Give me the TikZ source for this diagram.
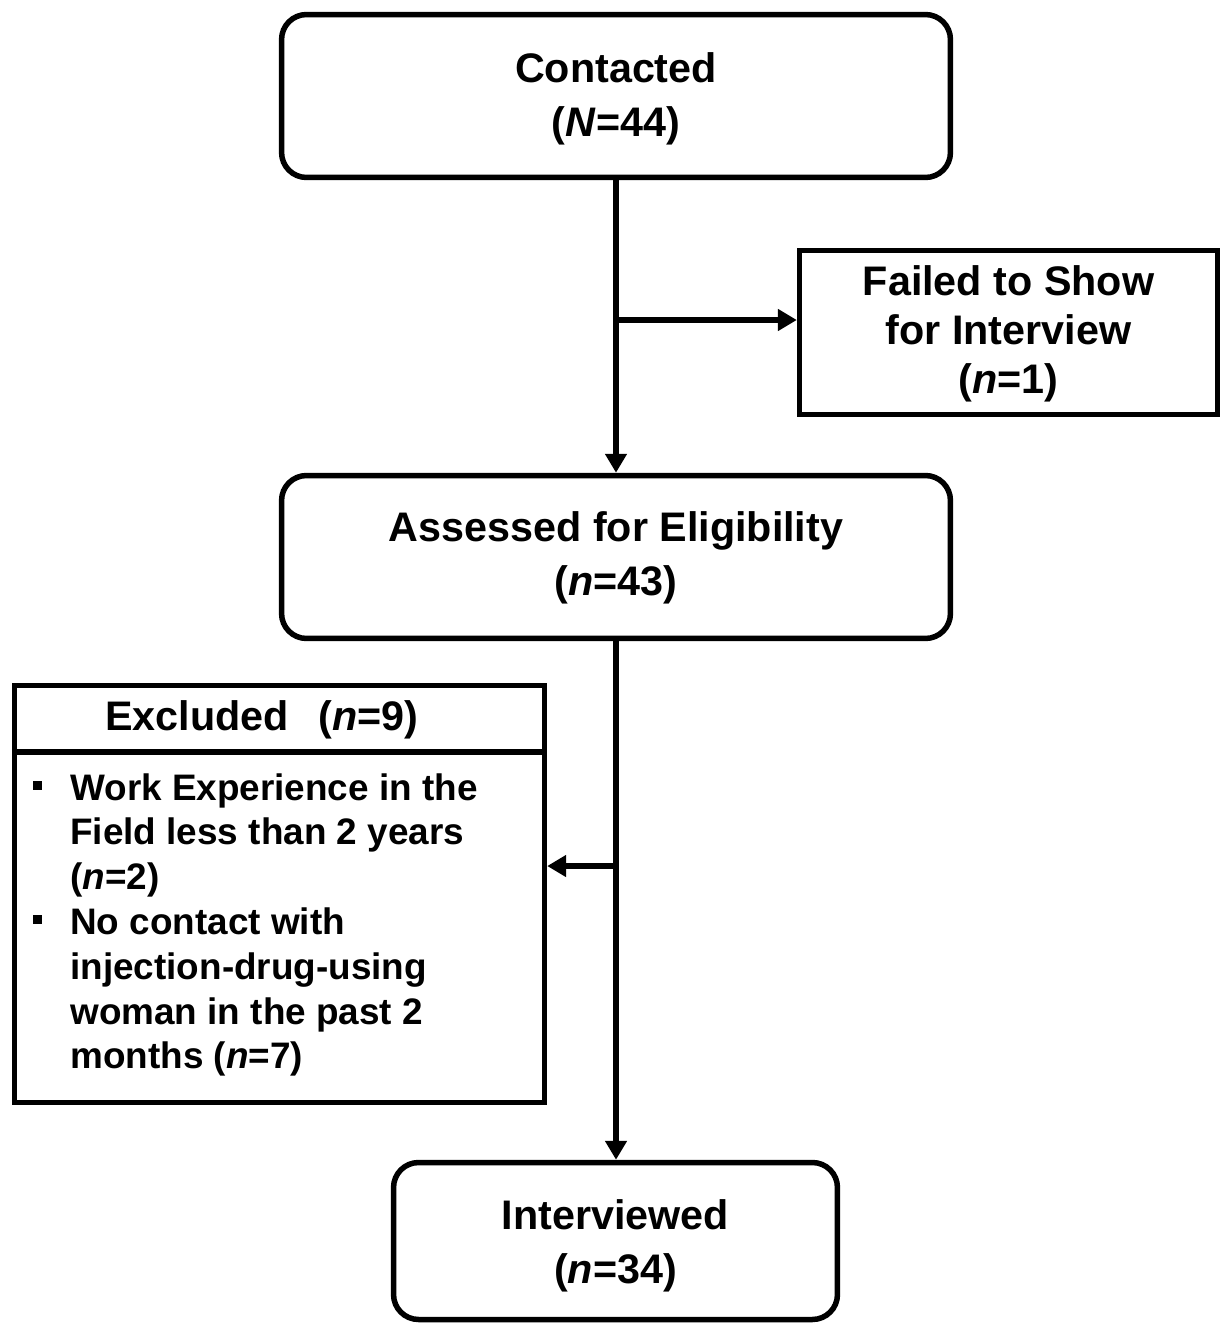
\documentclass[tikz,border=0pt]{standalone}
\usepackage{fontspec}
\setmainfont{Liberation Sans}
\usetikzlibrary{arrows.meta, positioning, calc}
\newcommand{\bul}{\makebox[0.74cm][l]{\rule[0.21cm]{0.18cm}{0.18cm}}}
\newcommand{\ind}{\hspace*{0.74cm}}

\begin{document}
\begin{tikzpicture}[x=0.02cm, y=-0.02cm,
            stage/.style={rectangle, draw, line width=0.11cm, rounded corners=0.5cm, minimum height=3.26cm, minimum width=13.38cm, align=center, font=\bfseries\fontsize{23.5}{30.5}\selectfont},
            sidebox/.style={rectangle, draw, line width=0.11cm, minimum height=3.28cm, minimum width=8.36cm, align=center, font=\bfseries\fontsize{23.5}{28}\selectfont},
            exclbox/.style={rectangle, draw, line width=0.11cm, minimum height=8.34cm, minimum width=10.6cm},
            title/.style={inner sep=0pt, font=\bfseries\fontsize{23.5}{28}\selectfont},
            listtext/.style={inner sep=0pt, align=left, font=\bfseries\fontsize{21}{25.5}\selectfont},
            arrow/.style={-{Triangle[length=0.38cm, width=0.42cm]}, line width=0.11cm}
        ]
            \useasboundingbox (0,0) rectangle (1225,1325);

            % Main stages
            \node[stage] (contacted) at (616,96) {\rule{0pt}{0.72cm}Contacted\\(\textit{N}=44)};
            \node[stage] (assessed) at (616,557) {\rule{0pt}{0.64cm}Assessed for Eligibility\\(\textit{n}=43)};
            \node[stage, minimum width=8.88cm, minimum height=3.14cm] (interviewed) at (615.5,1241) {\rule{0pt}{0.78cm}Interviewed\\(\textit{n}=34)};

            % Side boxes
            \node[sidebox] (failed) at (1008.5,332.5) {\rule{0pt}{0.64cm}Failed to Show\\for Interview\\(\textit{n}=1)};
            \node[exclbox] (excl) at (279.5,894) {};
            \node[title] (excltitle) at (262,720) {Excluded\hspace{0.45em} (\textit{n}=9)};
            \draw[line width=0.11cm] (excl.west |- 0,752) -- (excl.east |- 0,752);
            \node[listtext, anchor=north west] (excllist) at (33,773) {\bul Work Experience in the\\\ind Field less than 2 years\\\ind (\textit{n}=2)\\\bul No contact with\\\ind injection-drug-using\\\ind woman in the past 2\\\ind months (\textit{n}=7)};

            % Connections
            \coordinate (split1) at (616,320);
            \coordinate (split2) at (616,866);
            \draw[arrow] (contacted.south) -- (assessed.north);
            \draw[arrow] (split1) -- (failed.west |- split1);
            \draw[arrow] (assessed.south) -- (assessed.south |- interviewed.north);
            \draw[arrow] (split2) -- (excl.east |- split2);
        \end{tikzpicture}
\end{document}
